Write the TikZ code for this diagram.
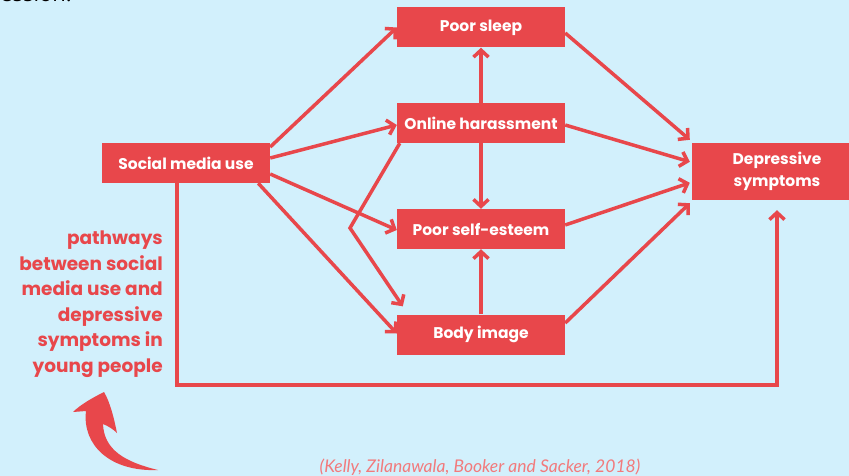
\documentclass[tikz,border=0pt]{standalone}
\usepackage{fontspec}
\setmainfont{Poppins}
\newfontfamily\citefont{Lato}
\newfontfamily\topfont{Open Sans}
\usetikzlibrary{arrows.meta}
\definecolor{bgblue}{HTML}{D2F0FC}
\definecolor{pathred}{HTML}{E8474B}
\definecolor{citered}{HTML}{F27A7C}
\tikzset{
  factor/.style={rectangle, fill=pathred, text=white, font=\bfseries\fontsize{15.5}{17}\selectfont,
    minimum width=168pt, minimum height=40pt, inner sep=0pt},
  link/.style={draw=pathred, line width=3.5pt, ->},
}

\begin{document}
\begin{tikzpicture}[x=1pt,y=-1pt,>={Straight Barb[length=7pt,width=15pt]}]
  \clip (0,0) rectangle (849,476);
  \fill[bgblue] (0,0) rectangle (849,476);
  \node[anchor=base west, inner sep=0pt, font=\topfont\fontsize{22}{24}\selectfont] (fragment) at (0,2) {ession.};

  % the boxes
  \node[factor] (soc) at (186,163) {Social media use};
  \node[factor] (sleep) at (481,27.5) {Poor sleep};
  \node[factor] (harass) at (481,123) {Online harassment};
  \node[factor] (esteem) at (481,229) {Poor self-esteem};
  \node[factor] (body) at (481,334.5) {Body image};
  \node[factor, minimum width=170pt, minimum height=57pt, align=center,
    font=\bfseries\fontsize{15.5}{22.5}\selectfont] (dep) at (777,171.5) {Depressive\\symptoms};

  % from social media use
  \draw[link] ([yshift=16pt]soc.east) -- (sleep.west);
  \draw[link] ([yshift=5pt]soc.east) -- ([yshift=-2pt]harass.west);
  \draw[link] ([yshift=-11pt]soc.east) -- ([yshift=-1pt]esteem.west);
  \draw[link] ([xshift=-12pt]soc.south east) -- ([yshift=1pt]body.west);
  \coordinate (kink) at (350,228);
  \draw[link] ([xshift=3pt]harass.south west) -- (kink) -- ([xshift=6pt,yshift=8pt]body.north west);

  % between the middle boxes
  \draw[link] (harass.north) -- (sleep.south);
  \draw[link] (harass.south) -- (esteem.north);
  \draw[link] (body.north) -- (esteem.south);

  % to depressive symptoms
  \draw[link] ([yshift=-5.5pt]sleep.east) -- ([xshift=-2pt,yshift=3pt]dep.north west);
  \draw[link] ([yshift=-2pt]harass.east) -- ([xshift=-2pt,yshift=-19pt]dep.north west);
  \draw[link] ([yshift=4pt]esteem.east) -- ([xshift=-2pt,yshift=-40pt]dep.north west);
  \draw[link] ([yshift=11.5pt]body.east) -- ([xshift=-2pt,yshift=-3pt]dep.south west);
  \coordinate (loopturn) at (777,385);
  \draw[link] ([xshift=-9pt]soc.south) |- (loopturn) -- ([yshift=-10pt]dep.south);

  \node[anchor=east, align=right, text=pathred, inner sep=0pt,
    font=\bfseries\fontsize{18.5}{25.5}\selectfont] (caption) at (163,304)
    {pathways\\between social\\media use and\\depressive\\symptoms in\\young people};

  % big hand-drawn arrow
  \fill[pathred] (104,392) .. controls (92,398) and (80,405) .. (73,412) -- (86,411)
    .. controls (82,445) and (110,472) .. (158,470)
    .. controls (125,462) and (104,450) .. (103,424)
    .. controls (108,426) and (113,429) .. (117,433)
    .. controls (114,418) and (110,402) .. (104,392) -- cycle;

  \node[text=citered, font=\citefont\itshape\fontsize{17.5}{19}\selectfont] (cite) at (480,467)
    {(Kelly, Zilanawala, Booker and Sacker, 2018)};
\end{tikzpicture}
\end{document}
